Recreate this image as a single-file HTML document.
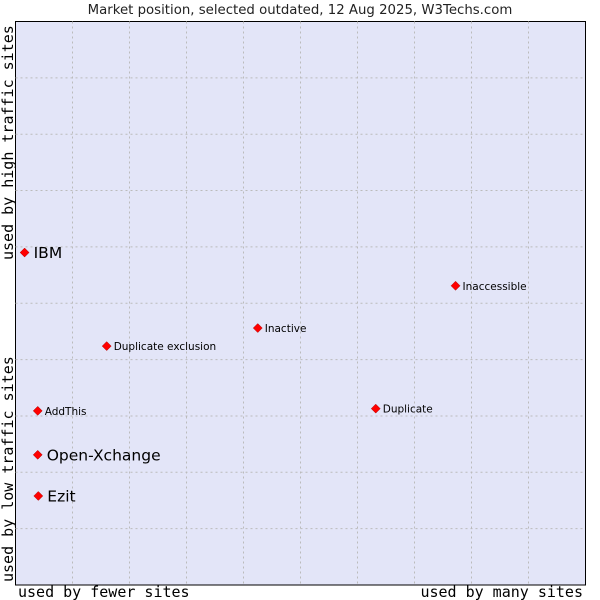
<!DOCTYPE html>
<html><head><meta charset="utf-8"><style>
body{margin:0;background:#fff;width:600px;height:600px;overflow:hidden}
svg{display:block}
</style></head><body>
<svg id="c" width="600" height="600" xmlns="http://www.w3.org/2000/svg">
<text x="300" y="14" text-anchor="middle" font-family="'DejaVu Sans',sans-serif" font-size="13.3" fill="#222">Market position, selected outdated, 12 Aug 2025, W3Techs.com</text>
<rect x="15.5" y="21.5" width="570" height="563.5" fill="#e3e5f8" stroke="#000"/>
<g id="grid"></g>
<g id="pts"></g>
<text transform="translate(13,260) rotate(-90)" font-family="'DejaVu Sans Mono','Liberation Mono',monospace" font-size="15" fill="#000">used by high traffic sites</text>
<text transform="translate(13,582) rotate(-90)" font-family="'DejaVu Sans Mono','Liberation Mono',monospace" font-size="15" fill="#000">used by low traffic sites</text>
<text x="18" y="597" font-family="'DejaVu Sans Mono','Liberation Mono',monospace" font-size="15" fill="#000">used by fewer sites</text>
<text x="583" y="597" text-anchor="end" font-family="'DejaVu Sans Mono','Liberation Mono',monospace" font-size="15" fill="#000">used by many sites</text>
</svg>
<script>
const names=["IBM","Inaccessible","Inactive","Duplicate exclusion","AddThis","Duplicate","Open-Xchange","Ezit"];
const xVals=[1.6,77.2,42.5,16.0,3.9,63.2,3.9,4.0];
const yVals=[59.0,53.1,45.6,42.4,30.9,31.3,23.1,15.8];
const bigLabel=[true,false,false,false,false,false,true,true];
const NS="http://www.w3.org/2000/svg";
const L=15.5,R=585.5,T=21.5,B=585;
const sx=v=>L+v/100*(R-L), sy=v=>B-v/100*(B-T);
const g=document.getElementById('grid');
for(let i=1;i<10;i++){
 const x=L+i*(R-L)/10, y=T+i*(B-T)/10;
 const v=document.createElementNS(NS,'line');
 
 
 v.setAttribute('x1',x);v.setAttribute('x2',x);v.setAttribute('y1',T);v.setAttribute('y2',B);
 v.setAttribute('stroke','#bbb');v.setAttribute('stroke-dasharray','2,3');g.appendChild(v);
 const h=document.createElementNS(NS,'line');
 
 
 h.setAttribute('x1',L);h.setAttribute('x2',R);h.setAttribute('y1',y);h.setAttribute('y2',y);
 h.setAttribute('stroke','#bbb');h.setAttribute('stroke-dasharray','2,3');g.appendChild(h);
}
const p=document.getElementById('pts');
names.forEach((n,i)=>{
 const x=sx(xVals[i]),y=sy(yVals[i]);
 const d=document.createElementNS(NS,'path');
 
 
 d.setAttribute('d',`M${x} ${y-4.5}L${x+4.5} ${y}L${x} ${y+4.5}L${x-4.5} ${y}Z`);
 d.setAttribute('fill','#f00');d.setAttribute('stroke','#a00');d.setAttribute('stroke-width','0.5');p.appendChild(d);
 const t=document.createElementNS(NS,'text');
 
 
 t.setAttribute('x',x+(bigLabel[i]?9:7));t.setAttribute('y',y+(bigLabel[i]?5.5:4));
 t.setAttribute('font-family',"'DejaVu Sans',sans-serif");
 t.setAttribute('font-size',bigLabel[i]?'15.5':'10.5');t.setAttribute('fill','#000');
 t.textContent=n;p.appendChild(t);
});
</script>
</body></html>
